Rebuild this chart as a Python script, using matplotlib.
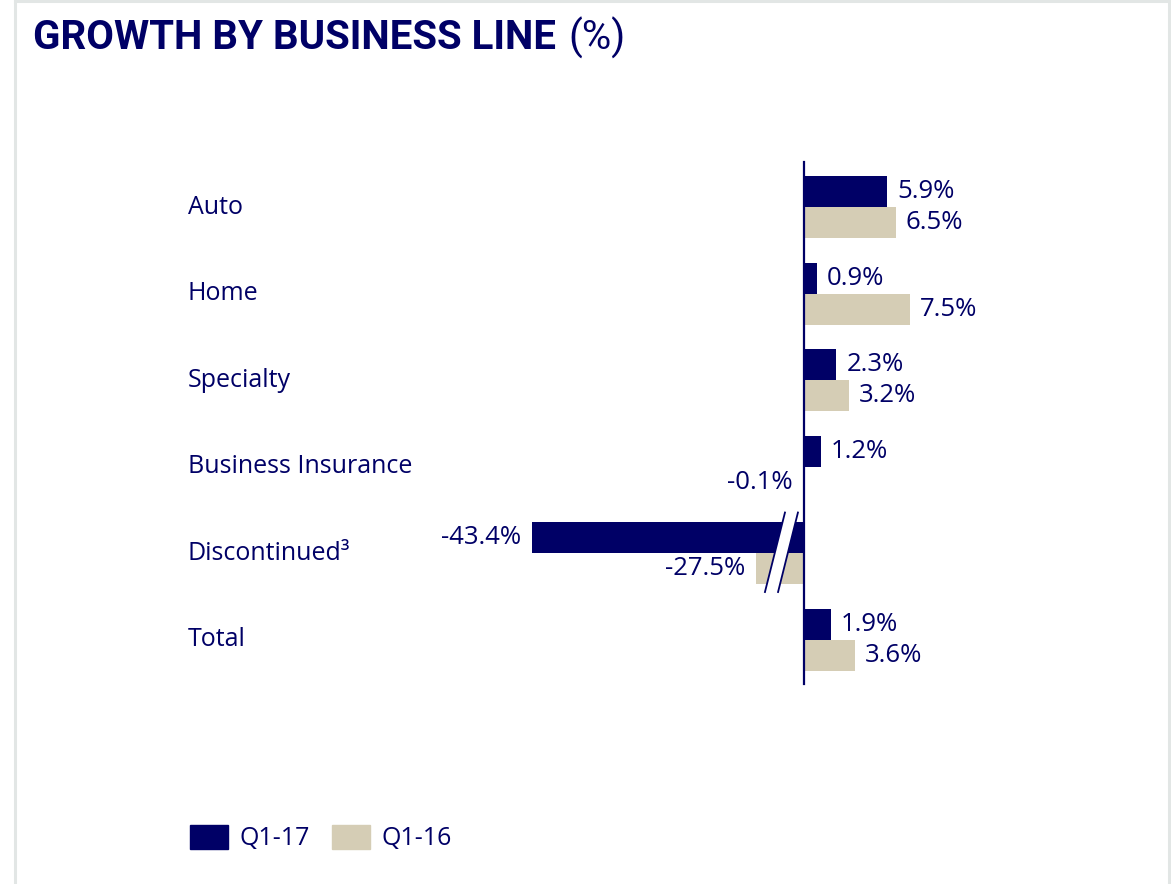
import matplotlib.pyplot as plt
from matplotlib.lines import Line2D
from matplotlib.patches import Patch, Polygon

NAVY = '#000066'
BEIGE = '#d5cdb5'
plt.rcParams['font.family'] = ['Open Sans', 'DejaVu Sans']

categories = ['Auto', 'Home', 'Specialty', 'Business Insurance', 'Discontinued³', 'Total']
q1_17 = [5.9, 0.9, 2.3, 1.2, -43.4, 1.9]
q1_16 = [6.5, 7.5, 3.2, -0.1, -27.5, 3.6]

# broken axis: anything below -CUT gets pulled in by GAP
CUT = 5.0
GAP = 24.1


def shown(v):
    return v + GAP if v < -CUT else v


fig = plt.figure(figsize=(11.71, 8.84), dpi=100)
ax = fig.add_axes([0, 0, 1, 1])
ax.set_xlim(-804 / 14.1, 367 / 14.1)
ax.set_ylim((884 - 207) / 86.6, -207 / 86.6)
ax.axis('off')

h = 31 / 86.6
y = list(range(len(categories)))
ax.barh([i - h / 2 for i in y], [shown(v) for v in q1_17], height=h, color=NAVY, zorder=2)
ax.barh([i + h / 2 for i in y], [shown(v) for v in q1_16], height=h, color=BEIGE, zorder=2)

for series, off in ((q1_17, -h / 2), (q1_16, h / 2)):
    for i, v in enumerate(series):
        d = shown(v)
        ax.annotate(f'{v:.1f}%', (d, i + off), xytext=(7.2 if v >= 0 else -7.5, 0),
                    textcoords='offset points', ha='left' if v >= 0 else 'right',
                    va='center', fontsize=18.5, color=NAVY, zorder=4)

# zero line
ax.axvline(0, ymin=1 - 684 / 884, ymax=1 - 162 / 884, color=NAVY, lw=1.6, zorder=3)

# break marks on the Discontinued bars
i = categories.index('Discontinued³')
top, bot = i - 0.472, i + 0.446
ax.add_patch(Polygon([(-1.35, top), (-0.43, top), (-1.84, bot), (-2.77, bot)],
                     closed=True, facecolor='white', edgecolor='none', zorder=3))
ax.plot([-1.35, -2.77], [top, bot], color=NAVY, lw=1.3, zorder=3)
ax.plot([-0.43, -1.84], [top, bot], color=NAVY, lw=1.3, zorder=3)

tr = ax.get_yaxis_transform()
for i, name in enumerate(categories):
    ax.text(188 / 1171, i, name, transform=tr, ha='left', va='center',
            fontsize=18, color=NAVY)

ax.legend(handles=[Patch(color=NAVY, label='Q1-17'), Patch(color=BEIGE, label='Q1-16')],
          loc='center left', bbox_to_anchor=(190 / 1171, 1 - 838 / 884), ncol=2,
          frameon=False, fontsize=18, labelcolor=NAVY, handlelength=1.52,
          handleheight=1.12, handletextpad=0.45, columnspacing=0.9, borderpad=0,
          borderaxespad=0)

# title
t = fig.text(33 / 1171, 1 - 38 / 884, 'GROWTH BY BUSINESS LINE', fontsize=29,
             fontweight='bold', color=NAVY, va='center', family='Roboto')
fig.canvas.draw()
bb = t.get_window_extent()
fig.text((bb.x1 + 12) / 1171, 1 - 38 / 884, '(%)', fontsize=29, color=NAVY, va='center',
         family='Roboto')

# panel border
for xs, ys in (([15, 15], [0, 884]), ([15, 1169], [1, 1]), ([1169, 1169], [0, 884])):
    fig.add_artist(Line2D([x / 1171 for x in xs], [1 - v / 884 for v in ys],
                          color='#e2e6e5', lw=2.2))

fig.savefig('out.png', dpi=100, facecolor='white')
